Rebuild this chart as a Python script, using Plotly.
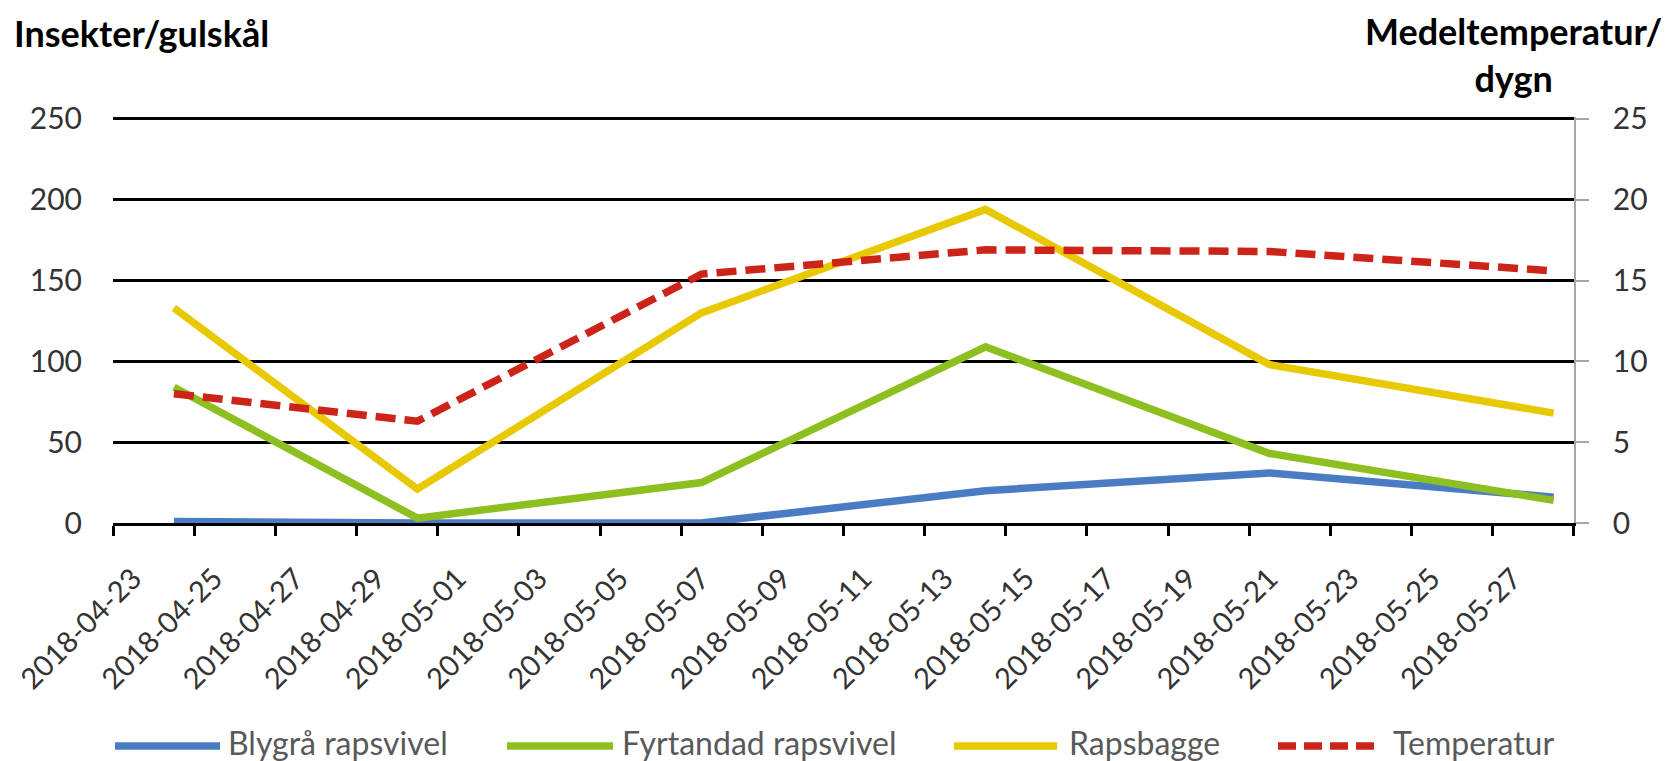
import pandas as pd
import plotly.graph_objects as go

# ---- data ----
dates = ["2018-04-24", "2018-04-30", "2018-05-07", "2018-05-14", "2018-05-21", "2018-05-28"]
blygra = [1, 0, 0, 20, 31, 16]
fyrtandad = [84, 3, 25, 109, 43, 14]
rapsbagge = [133, 21, 130, 194, 98, 68]
temperatur = [8.0, 6.3, 15.4, 16.9, 16.8, 15.6]

tick_labels = ["2018-04-23", "2018-04-25", "2018-04-27", "2018-04-29", "2018-05-01",
               "2018-05-03", "2018-05-05", "2018-05-07", "2018-05-09", "2018-05-11",
               "2018-05-13", "2018-05-15", "2018-05-17", "2018-05-19", "2018-05-21",
               "2018-05-23", "2018-05-25", "2018-05-27"]
axis_end_label = "2018-05-29"
left_ticks = [0, 50, 100, 150, 200, 250]
right_ticks = [0, 5, 10, 15, 20, 25]

names = ["Blygrå rapsvivel", "Fyrtandad rapsvivel", "Rapsbagge", "Temperatur"]
colors = ["#4a7cc4", "#8cbf1f", "#e8c900", "#cc2418"]

# ---- layout geometry (pixels) ----
W, H = 1670, 761
L, R, T, B = 113, 1574, 117, 523
FONT = "Lato"

half_day = pd.Timedelta(hours=12)
eps = pd.Timedelta(minutes=2)
tick_pos = list(pd.to_datetime(tick_labels + [axis_end_label]) - half_day)
tick_txt = tick_labels + [""]
x_range = [tick_pos[0] - eps, tick_pos[-1] + eps]

x = pd.to_datetime(dates)

fig = go.Figure()
series = [blygra, fyrtandad, rapsbagge]
for name, col, vals in zip(names[:3], colors[:3], series):
    fig.add_trace(go.Scatter(x=x, y=vals, name=name, mode="lines",
                             line=dict(color=col, width=7.5), cliponaxis=False,
                             showlegend=False))
fig.add_trace(go.Scatter(x=x, y=temperatur, name=names[3], mode="lines", yaxis="y2",
                         line=dict(color=colors[3], width=7.5, dash="20px,9px"),
                         cliponaxis=False, showlegend=False))

def px_x(p):
    return (p - L) / (R - L)

def px_y(p):
    return (B - p) / (B - T)

# custom legend (line samples + labels)
legend_items = [(115, 220, 226), (507, 613, 620), (954, 1057, 1067), (1278, 1380, 1391)]
shapes = []
annotations = []
for (x0, x1, tx), name, col in zip(legend_items, names, colors):
    shapes.append(dict(type="line", xref="paper", yref="paper",
                       x0=px_x(x0), x1=px_x(x1), y0=px_y(746), y1=px_y(746),
                       line=dict(color=col, width=7.5,
                                 dash="18px,8px" if name == "Temperatur" else "solid")))
    annotations.append(dict(xref="paper", yref="paper", x=px_x(tx), y=px_y(742),
                            xanchor="left", yanchor="middle", showarrow=False,
                            text=name, font=dict(family=FONT, size=32, color="#595959")))

annotations.append(dict(xref="paper", yref="paper", x=px_x(12), y=px_y(33),
                        xanchor="left", yanchor="middle", showarrow=False,
                        text="<b>Insekter/gulskål</b>",
                        font=dict(family=FONT, size=36, color="#000000")))
annotations.append(dict(xref="paper", yref="paper", x=px_x(1513), y=px_y(54),
                        xanchor="center", yanchor="middle", showarrow=False, align="center",
                        text="<b>Medeltemperatur/<br>dygn</b>",
                        font=dict(family=FONT, size=36, color="#000000")))

fig.update_layout(
    width=W, height=H,
    margin=dict(l=L, r=W - R, t=T, b=H - B, pad=0, autoexpand=False),
    paper_bgcolor="white", plot_bgcolor="white",
    font=dict(family=FONT, size=30, color="#333333"),
    shapes=shapes, annotations=annotations,
    xaxis=dict(type="date", range=x_range, tickmode="array", tickvals=tick_pos,
               ticktext=tick_txt, tickangle=-45, showgrid=False, zeroline=False,
               showline=True, linecolor="#000000", linewidth=3,
               ticks="outside", ticklen=10, tickwidth=3, tickcolor="#000000",
               tickfont=dict(family=FONT, size=29, color="#333333"),
               ticklabelshift=20, ticklabelstandoff=14,
               ticklabeloverflow="allow", automargin=False, layer="below traces"),
    yaxis=dict(range=[0, 251.2], tickmode="array", tickvals=left_ticks,
               showgrid=True, gridcolor="#000000", gridwidth=2.8, zeroline=False,
               showline=False, ticks="", ticklabelstandoff=30, automargin=False,
               tickfont=dict(family=FONT, size=30, color="#333333"),
               layer="below traces"),
    yaxis2=dict(range=[0, 25.12], overlaying="y", side="right", tickmode="array",
                tickvals=right_ticks, showgrid=False, zeroline=False,
                showline=True, linecolor="#a6a6a6", linewidth=1.5,
                ticks="outside", ticklen=13, tickwidth=1.5, tickcolor="#a6a6a6",
                ticklabelstandoff=18, automargin=False,
                tickfont=dict(family=FONT, size=30, color="#333333"),
                layer="below traces"),
)

fig.write_html("out.html")
